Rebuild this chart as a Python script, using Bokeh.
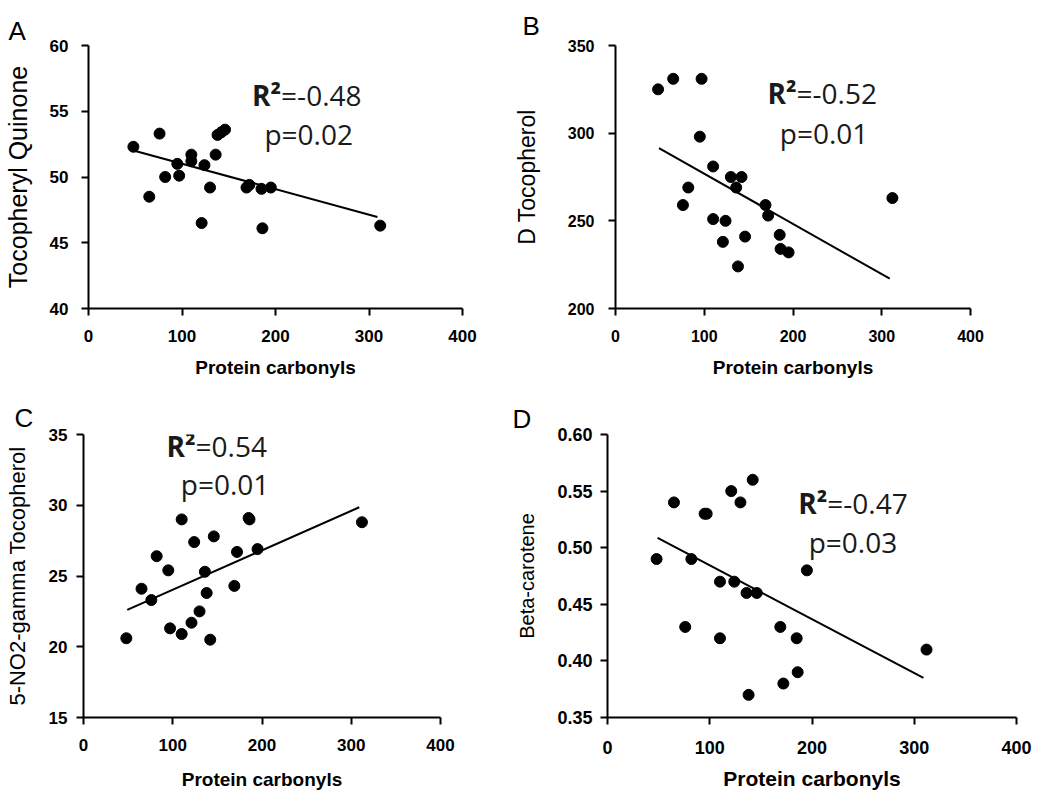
from bokeh.plotting import figure
from bokeh.layouts import column, row
from bokeh.models import Range1d, FixedTicker, Label, PrintfTickFormatter, ColumnDataSource, Title
from bokeh.embed import file_html
from bokeh.resources import INLINE

# ---- data ----
protein_carbonyls = [48, 65, 76, 82, 95, 97, 110, 110, 121, 124, 130,
                     136, 138, 142, 146, 169, 172, 185, 186, 195, 312]
tocopheryl_quinone = [52.3, 48.5, 53.3, 50.0, 51.0, 50.1, 51.7, 51.2, 46.5, 50.9, 49.2,
                      51.7, 53.2, 53.4, 53.6, 49.2, 49.4, 49.1, 46.1, 49.2, 46.3]
d_tocopherol = [325, 331, 259, 269, 298, 331, 281, 251, 238, 250, 275,
                269, 224, 275, 241, 259, 253, 242, 234, 232, 263]
no2_gamma_tocopherol = [20.6, 24.1, 23.3, 26.4, 25.4, 21.3, 29.0, 20.9, 21.7, 27.4, 22.5,
                        25.3, 23.8, 20.5, 27.8, 24.3, 26.7, 29.1, 29.0, 26.9, 28.8]
beta_carotene = [0.49, 0.54, 0.43, 0.49, 0.53, 0.53, 0.47, 0.42, 0.55, 0.47, 0.54,
                 0.46, 0.37, 0.56, 0.46, 0.43, 0.38, 0.42, 0.39, 0.48, 0.41]

trend_x = [49, 309]
trend_quinone = [52.0, 46.96]
trend_d_toco = [291.5, 217.0]
trend_no2 = [22.6, 29.86]
trend_beta = [0.5087, 0.385]

x_ticks = [0, 100, 200, 300, 400]
y_ticks_quinone = [40, 45, 50, 55, 60]
y_ticks_d_toco = [200, 250, 300, 350]
y_ticks_no2 = [15, 20, 25, 30, 35]
y_ticks_beta = [0.35, 0.40, 0.45, 0.50, 0.55, 0.60]

x_label = "Protein carbonyls"
panel_letters = ["A", "B", "C", "D"]
y_labels = ["Tocopheryl Quinone", "D Tocopherol", "5-NO2-gamma Tocopherol", "Beta-carotene"]
r2_values = ["=-0.48", "=-0.52", "=0.54", "=-0.47"]
p_values = ["p=0.02", "p=0.01", "p=0.01", "p=0.03"]

AX_FONT = "Liberation Sans"
TXT_FONT = "Open Sans"


def make_panel(yvals, trend_y, yticks, ylab, letter, r2, pv, *, width, height,
               borders, tick_fs, xlab_fs, ylab_fs, ystand, ylabstand, xstand, xlabstand,
               r2_pos, p_pos, letter_offset, letter_standoff, fmt=None):
    bl, br, bt, bb = borders
    p = figure(width=width, height=height, output_backend="svg", toolbar_location=None,
               x_range=Range1d(x_ticks[0], x_ticks[-1]),
               y_range=Range1d(yticks[0], yticks[-1]),
               min_border_left=bl, min_border_right=br,
               min_border_top=bt, min_border_bottom=bb)
    p.outline_line_color = None
    p.grid.visible = False
    p.background_fill_color = "white"
    p.border_fill_color = "white"

    src = ColumnDataSource(dict(x=protein_carbonyls, y=yvals))
    p.line(trend_x, trend_y, line_color="black", line_width=2)
    p.scatter("x", "y", source=src, size=11, marker="circle",
              fill_color="black", line_color="black")

    for ax in (p.xaxis[0], p.yaxis[0]):
        ax.axis_line_width = 2
        ax.axis_line_color = "black"
        ax.major_tick_line_width = 2
        ax.major_tick_line_color = "black"
        ax.major_tick_out = 7
        ax.major_tick_in = 0
        ax.minor_tick_line_color = None
        ax.major_label_text_font = AX_FONT
        ax.major_label_text_font_style = "bold"
        ax.major_label_text_font_size = f"{tick_fs}px"
        ax.major_label_text_color = "black"
        ax.axis_label_text_font = AX_FONT
        ax.axis_label_text_color = "black"

    p.xaxis.ticker = FixedTicker(ticks=x_ticks)
    p.yaxis.ticker = FixedTicker(ticks=yticks)
    if fmt:
        p.yaxis.formatter = PrintfTickFormatter(format=fmt)

    p.xaxis.axis_label = x_label
    p.xaxis.axis_label_text_font_style = "bold"
    p.xaxis.axis_label_text_font_size = f"{xlab_fs}px"
    p.xaxis.major_label_standoff = xstand
    p.xaxis.axis_label_standoff = xlabstand

    p.yaxis.axis_label = ylab
    p.yaxis.axis_label_text_font_style = "normal"
    p.yaxis.axis_label_text_font_size = f"{ylab_fs}px"
    p.yaxis.major_label_standoff = ystand
    p.yaxis.axis_label_standoff = ylabstand

    # panel letter as a left-aligned title shifted into the left margin
    p.add_layout(Title(text=letter, align="left", offset=letter_offset,
                       standoff=letter_standoff, text_font=AX_FONT,
                       text_font_style="normal", text_font_size="26px",
                       text_color="black"), "above")

    # annotation texts (positions are the vertical middle of each line)
    p.add_layout(Label(x=r2_pos[0], y=r2_pos[1], text="R²", text_font=TXT_FONT,
                       text_font_style="bold", text_font_size="28px", text_align="right",
                       text_baseline="middle", text_color="#1a1a1a"))
    p.add_layout(Label(x=r2_pos[0], y=r2_pos[1], text=r2, text_font=TXT_FONT,
                       text_font_size="28px", text_align="left",
                       text_baseline="middle", text_color="#1a1a1a"))
    p.add_layout(Label(x=p_pos[0], y=p_pos[1], text=pv, text_font=TXT_FONT,
                       text_font_size="28px", text_align="center",
                       text_baseline="middle", text_color="#1a1a1a"))
    return p


pA = make_panel(tocopheryl_quinone, trend_quinone, y_ticks_quinone, y_labels[0],
                panel_letters[0], r2_values[0], p_values[0],
                width=510, height=390, borders=(85, 48, 32, 82),
                tick_fs=17, xlab_fs=19, ylab_fs=25, ystand=13, ylabstand=15,
                xstand=14, xlabstand=12,
                r2_pos=(206, 56.2), p_pos=(235.5, 53.3),
                letter_offset=-80, letter_standoff=0)

pB = make_panel(d_tocopherol, trend_d_toco, y_ticks_d_toco, y_labels[1],
                panel_letters[1], r2_values[1], p_values[1],
                width=537, height=390, borders=(96, 77, 45, 81),
                tick_fs=16, xlab_fs=19, ylab_fs=23, ystand=14, ylabstand=25,
                xstand=14, xlabstand=12,
                r2_pos=(204, 322.8), p_pos=(235, 300.3),
                letter_offset=-93, letter_standoff=10)

pC = make_panel(no2_gamma_tocopherol, trend_no2, y_ticks_no2, y_labels[2],
                panel_letters[2], r2_values[2], p_values[2],
                width=510, height=402, borders=(83, 70, 44, 71),
                tick_fs=17, xlab_fs=19, ylab_fs=22, ystand=9, ylabstand=16,
                xstand=14, xlabstand=15,
                r2_pos=(125.6, 34.18), p_pos=(158.6, 31.5),
                letter_offset=-69, letter_standoff=4)

pD = make_panel(beta_carotene, trend_beta, y_ticks_beta, y_labels[3],
                panel_letters[3], r2_values[3], p_values[3],
                width=537, height=402, borders=(97, 31, 41, 72),
                tick_fs=18, xlab_fs=21, ylab_fs=20, ystand=8, ylabstand=16,
                xstand=16, xlabstand=10,
                r2_pos=(215, 0.5395), p_pos=(240, 0.5054),
                letter_offset=-95, letter_standoff=2,
                fmt="%.2f")

layout = column(row(pA, pB), row(pC, pD))
open("out.html", "w").write(file_html(layout, INLINE))
